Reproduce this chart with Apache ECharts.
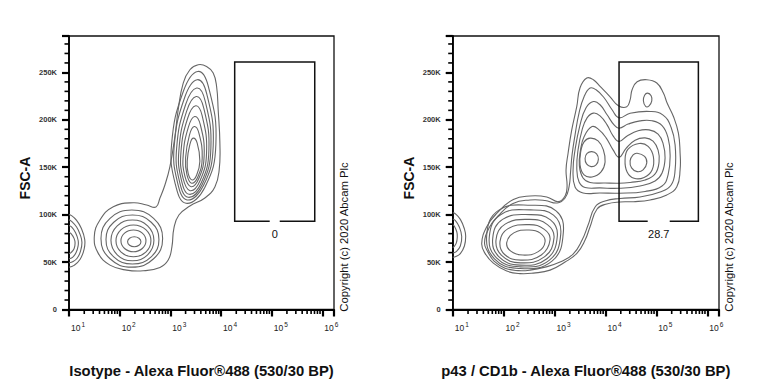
<!DOCTYPE html>
<html><head><meta charset="utf-8">
<script src="https://cdn.jsdelivr.net/npm/echarts@6/dist/echarts.min.js"></script>
<style>html,body{margin:0;padding:0;background:#fff;}#c{width:768px;height:384px;}</style>
</head><body><div id="c"></div>
<script>
// ---------- axes (x in log10 units of fluorescence, y in thousands) ----------
const xDecades = [1, 2, 3, 4, 5, 6];
const xRange = [1, 6.23];
const yTicks = [0, 50, 100, 150, 200, 250];
const yMinorTicks = [10,20,30,40,60,70,80,90,110,120,130,140,160,170,180,190,210,220,230,240,260,270,280];
const yRange = [0, 288.4];
const xMinorMultipliers = [2, 3, 4, 5, 6, 7, 8, 9];

const yTitle = 'FSC-A';
const xTitles = ['Isotype - Alexa Fluor®488 (530/30 BP)', 'p43 / CD1b - Alexa Fluor®488 (530/30 BP)'];
const copyrightText = 'Copyright (c) 2020 Abcam Plc';

// ---------- gates: [xMin, xMax, yMin, yMax] and their percentages ----------
const isotypeGate = [4.27, 5.85, 93, 261];
const isotypeGateLabel = '0';
const p43Gate = [4.267, 5.825, 93, 261];
const p43GateLabel = '28.7';

// ---------- isotype panel contours [log10 x, FSC-A (K)] ----------
const isoEdge1 = [[1.0,100],[1.05,99],[1.15,94],[1.24,86],[1.31,74],[1.30,64],[1.22,53],[1.1,46.5],[1.0,44.5]];
const isoEdge2 = [[1.0,94.5],[1.05,93],[1.15,87],[1.22,79],[1.255,71],[1.23,62],[1.16,54],[1.06,50],[1.0,49.3]];
const isoEdge3 = [[1.0,88.5],[1.05,87],[1.13,81],[1.18,73],[1.18,67],[1.14,60],[1.07,55],[1.0,53.5]];
const isoEdge4 = [[1.0,81.5],[1.04,80],[1.1,75],[1.12,70],[1.1,64],[1.04,60],[1.0,59]];
const isoOuter = [[3.550,258.1],[3.715,256.3],[3.846,249.4],[3.913,235.2],[3.944,210.6],[3.978,175.4],[3.964,147.2],[3.879,129.2],[3.682,117.6],[3.386,109.1],[3.169,99.6],[3.071,85.9],[3.031,66.1],[2.958,52.1],[2.795,44.4],[2.465,40.8],[2.138,41.5],[1.809,46.8],[1.578,59.2],[1.499,76.7],[1.611,94.4],[1.874,108.4],[2.268,112.6],[2.532,110.2],[2.716,108.1],[2.795,117.6],[2.893,131.3],[2.992,150.7],[3.090,182.4],[3.155,210.6],[3.254,238.8],[3.386,252.8]];
const isoLow1 = [[2.420,71.4],[2.381,75.1],[2.288,76.7],[2.195,75.1],[2.156,71.4],[2.195,67.7],[2.288,66.1],[2.381,67.7]];
const isoLow2 = [[2.519,72.4],[2.447,80.5],[2.272,83.8],[2.097,80.5],[2.025,72.4],[2.097,64.3],[2.272,60.9],[2.447,64.3]];
const isoLow3 = [[2.617,72.4],[2.516,84.2],[2.272,89.1],[2.028,84.2],[1.927,72.4],[2.028,60.5],[2.272,55.6],[2.516,60.5]];
const isoLow4 = [[2.676,72.9],[2.552,88.1],[2.252,94.4],[1.952,88.1],[1.828,72.9],[1.952,57.7],[2.252,51.4],[2.552,57.7]];
const isoLow5 = [[2.775,73.8],[2.622,92.0],[2.253,99.6],[1.883,92.0],[1.730,73.8],[1.883,55.5],[2.253,47.9],[2.622,55.5]];
const isoLow6 = [[2.848,74.8],[2.670,96.1],[2.240,104.9],[1.810,96.1],[1.631,74.8],[1.810,53.5],[2.240,44.7],[2.670,53.5]];
const isoHigh1 = [[3.54,251],[3.755,234.3],[3.899,174.5],[3.680,128.7],[3.31,112],[3.095,132.8],[3.025,174.5],[3.257,230.1]];
const isoHigh2 = [[3.53,242.3],[3.720,227.1],[3.846,172.6],[3.654,130.7],[3.33,115.5],[3.139,134.5],[3.077,172.6],[3.281,223.3]];
const isoHigh3 = [[3.52,233.5],[3.688,219.7],[3.800,170.1],[3.631,132.1],[3.35,118.3],[3.178,135.6],[3.124,170.1],[3.302,216.2]];
const isoHigh4 = [[3.51,224.6],[3.661,212.2],[3.761,167.9],[3.613,133.9],[3.37,121.5],[3.216,137.0],[3.169,167.9],[3.322,209.1]];
const isoHigh5 = [[3.50,214.8],[3.629,204.1],[3.715,165.6],[3.588,136.0],[3.39,125.3],[3.249,138.7],[3.209,165.6],[3.340,201.4]];
const isoHigh6 = [[3.48,203.5],[3.593,194.6],[3.668,162.8],[3.564,138.4],[3.41,129.5],[3.287,140.6],[3.254,162.8],[3.356,192.4]];
const isoHigh7 = [[3.47,192.9],[3.565,185.7],[3.629,160.0],[3.547,140.3],[3.42,133.1],[3.327,142.1],[3.301,160.0],[3.377,183.9]];
const isoHigh8 = [[3.45,180.7],[3.530,175.4],[3.583,156.4],[3.520,141.9],[3.43,136.6],[3.353,143.2],[3.333,156.4],[3.386,174.1]];

// ---------- p43 / CD1b panel contours ----------
const p43Edge1 = [[1.0,102],[1.05,101],[1.15,95],[1.23,85],[1.255,77],[1.23,67],[1.15,59],[1.05,55.5],[1.0,55.2]];
const p43Edge2 = [[1.0,95.5],[1.05,94],[1.13,87],[1.177,77],[1.15,67],[1.07,61],[1.0,59.5]];
const p43Edge3 = [[1.0,89.5],[1.03,88],[1.08,82],[1.09,77],[1.07,70],[1.02,66],[1.0,65.5]];
const p43Outer1 = [[1.570,69.7],[1.668,87.3],[1.865,101.4],[2.191,116.1],[2.519,119.7],[2.847,118.7],[3.075,113.7],[3.207,119.7],[3.246,129.5],[3.226,147.2],[3.266,164.8],[3.338,189.4],[3.437,214.1],[3.501,233.8],[3.633,244.1],[3.763,242.3],[3.894,235.2],[4.091,224.3],[4.254,214.8],[4.419,213.7],[4.484,221.1],[4.523,231.7],[4.622,240.2],[4.812,242.3],[5.009,238.8],[5.138,228.2],[5.211,217.7],[5.335,203.5],[5.433,186.0],[5.466,164.8],[5.466,147.2],[5.402,129.5],[5.205,120.8],[4.877,115.5],[4.549,113.7],[4.287,113.4],[4.026,111.3],[3.836,106.0],[3.698,87.3],[3.600,73.2],[3.443,59.5],[3.207,50.0],[2.912,41.5],[2.584,38.4],[2.322,37.8],[2.061,40.5],[1.798,48.9],[1.635,59.2]];
const p43Outer2 = [[3.698,233.5],[3.816,231.7],[3.973,223.3],[4.130,210.6],[4.267,202.1],[4.484,207.0],[4.877,208.8],[5.132,205.0],[5.290,192.0],[5.368,173.6],[5.368,147.2],[5.290,131.3],[5.073,123.9],[4.680,118.7],[4.287,117.1],[3.992,114.4],[3.797,108.1],[3.659,89.1],[3.541,73.2],[3.364,58.4],[3.108,50.0],[2.814,44.7],[2.519,41.5],[2.283,41.0],[2.028,43.6],[1.812,51.0],[1.694,60.5],[1.625,70.1],[1.713,85.9],[1.890,98.6],[2.185,111.8],[2.519,115.5],[2.814,115.0],[3.050,112.3],[3.207,117.6],[3.285,129.2],[3.315,145.1],[3.344,163.0],[3.403,184.2],[3.482,207.4],[3.580,224.3]];
const p43Upper1 = [[3.763,219.3],[3.894,215.9],[4.032,205.3],[4.169,194.7],[4.267,191.2],[4.444,195.5],[4.680,198.9],[4.916,199.0],[5.112,194.0],[5.230,181.0],[5.270,163.0],[5.230,142.0],[5.112,130.3],[4.779,124.5],[4.267,122.6],[3.894,122.9],[3.560,122.9],[3.403,129.2],[3.364,147.2],[3.403,168.3],[3.501,194.7],[3.619,212.7]];
const p43Upper2 = [[3.763,207.1],[3.894,204.2],[4.032,194.7],[4.150,183.1],[4.267,177.1],[4.425,183.0],[4.641,188.5],[4.857,189.4],[5.034,185.0],[5.132,175.0],[5.171,159.9],[5.112,144.0],[4.975,135.6],[4.680,130.3],[4.267,127.8],[3.894,128.2],[3.600,128.7],[3.482,134.5],[3.437,149.3],[3.462,168.3],[3.541,189.4],[3.639,202.1]];
const p43Upper3 = [[3.737,192.9],[3.875,189.4],[4.013,181.0],[4.150,168.3],[4.267,160.6],[4.405,170.0],[4.582,178.5],[4.778,181.0],[4.935,177.5],[5.034,168.0],[5.053,155.6],[4.975,143.0],[4.778,136.6],[4.484,134.0],[4.267,133.1],[3.992,133.4],[3.698,134.0],[3.560,138.7],[3.488,151.4],[3.511,168.3],[3.580,182.1]];
const p43PeakL1 = [[3.698,180.7],[3.855,177.8],[3.959,168.3],[3.993,155.6],[3.914,145.1],[3.737,139.8],[3.580,141.9],[3.501,152.5],[3.521,168.3],[3.580,176.8]];
const p43PeakL2 = [[3.731,166.5],[3.826,164.1],[3.861,158.3],[3.816,152.5],[3.718,150.7],[3.629,153.5],[3.600,159.3],[3.639,164.6]];
const p43PeakR1 = [[4.661,175.0],[4.838,172.0],[4.942,160.9],[4.916,147.2],[4.759,139.3],[4.562,138.4],[4.425,145.1],[4.385,157.7],[4.444,169.0]];
const p43PeakR2 = [[4.622,164.8],[4.769,161.4],[4.812,154.6],[4.739,147.2],[4.621,145.4],[4.513,149.3],[4.484,156.7],[4.543,163.0]];
const p43Island = [[4.828,228.2],[4.897,225.4],[4.910,220.1],[4.857,214.8],[4.789,214.1],[4.745,220.1],[4.769,225.9]];
const p43Low1 = [[2.814,71.5],[2.72,80.5],[2.50,83.8],[2.20,80.8],[2.061,70.6],[2.14,61.5],[2.38,57.4],[2.68,61.0]];
const p43Low2 = [[2.912,73.5],[2.80,84.5],[2.50,89.5],[2.08,85.0],[1.929,71.8],[2.02,58.0],[2.34,52.1],[2.74,57.5]];
const p43Low3 = [[2.990,75.5],[2.86,89.5],[2.51,95.0],[2.03,90.0],[1.851,73.5],[1.96,57.0],[2.33,49.2],[2.80,55.5]];
const p43Low4 = [[3.055,77.5],[2.92,94.5],[2.52,100.0],[1.98,95.0],[1.786,75.0],[1.91,55.5],[2.32,46.8],[2.85,53.5]];
const p43Low5 = [[3.122,79.5],[2.98,99.5],[2.53,105.0],[1.94,100.0],[1.719,76.7],[1.86,54.5],[2.31,45.0],[2.90,52.0]];
const p43Low6 = [[3.173,81.5],[3.03,104.0],[2.54,110.0],[1.90,104.5],[1.668,78.3],[1.82,53.5],[2.30,43.3],[2.95,51.0]];

const isotypeEdges = [isoEdge1, isoEdge2, isoEdge3, isoEdge4];
const isotypeContours = [isoOuter, isoLow1, isoLow2, isoLow3, isoLow4, isoLow5, isoLow6,
  isoHigh1, isoHigh2, isoHigh3, isoHigh4, isoHigh5, isoHigh6, isoHigh7, isoHigh8];
const p43Edges = [p43Edge1, p43Edge2, p43Edge3];
const p43Contours = [p43Outer1, p43Outer2, p43Upper1, p43Upper2, p43Upper3, p43PeakL1, p43PeakL2,
  p43PeakR1, p43PeakR2, p43Island, p43Low1, p43Low2, p43Low3, p43Low4, p43Low5, p43Low6];

// ---------- build ----------
const FONT = "'Liberation Sans', Arial, Helvetica, sans-serif";
const xMinorTicks = [];
xDecades.forEach(function (d) {
  xMinorMultipliers.forEach(function (m) {
    const v = d + Math.log10(m);
    if (v <= xRange[1]) xMinorTicks.push(v);
  });
});

const grids = [
  { left: 69, top: 36, width: 265, height: 273.5, show: true, borderColor: '#111', borderWidth: 1.3 },
  { left: 452.7, top: 36, width: 266.3, height: 273.5, show: true, borderColor: '#111', borderWidth: 1.3 }
];

function xAxisFor(g) {
  return {
    type: 'value', gridIndex: g, min: xRange[0], max: xRange[1], interval: 1, position: 'bottom',
    axisLine: { show: true, onZero: false, lineStyle: { color: '#000', width: 1.8 } },
    axisTick: { show: true, length: 7, lineStyle: { color: '#000', width: 2.2 } },
    axisLabel: {
      show: true, align: 'left', margin: 11,
      formatter: function (v) { return xDecades.indexOf(v) >= 0 ? '{b|10}{s|' + v + '}' : ''; },
      rich: {
        b: { fontSize: 8.5, fontFamily: FONT, color: '#222', lineHeight: 10, padding: [5, 0, 0, 2] },
        s: { fontSize: 6.5, fontFamily: FONT, color: '#222', lineHeight: 8, verticalAlign: 'top', padding: [0, 0, 0, 1] }
      }
    },
    splitLine: { show: false }
  };
}
function yAxisFor(g) {
  return {
    type: 'value', gridIndex: g, min: yRange[0], max: yRange[1], interval: 50, position: 'left',
    axisLine: { show: true, onZero: false, lineStyle: { color: '#000', width: 1.8 } },
    axisTick: { show: true, length: 7, lineStyle: { color: '#000', width: 2.2 } },
    axisLabel: {
      show: true, margin: 12, fontSize: 7.5, fontWeight: 'bold', fontFamily: FONT, color: '#333',
      formatter: function (v) { return yTicks.indexOf(v) < 0 ? '' : (v === 0 ? '0' : v + 'K'); }
    },
    splitLine: { show: false }
  };
}

function contourSeries(g, contours, closed) {
  return {
    type: 'custom', xAxisIndex: g, yAxisIndex: g, silent: true, animation: false,
    data: contours.map(function (c, i) { return [c[0][0], c[0][1], i]; }),
    encode: { x: 0, y: 1 },
    renderItem: function (params, api) {
      const pts = contours[params.dataIndex].map(function (p) { return api.coord(p); });
      return {
        type: closed ? 'polygon' : 'polyline',
        shape: { points: pts, smooth: 0.45 },
        style: { fill: 'none', stroke: '#666', lineWidth: 1.1 }
      };
    }
  };
}
function gateSeries(g, gate, label, gapHalf) {
  return {
    type: 'custom', xAxisIndex: g, yAxisIndex: g, silent: true, animation: false, z: 5,
    data: [[gate[0], gate[2]]], encode: { x: 0, y: 1 },
    renderItem: function (params, api) {
      const tl = api.coord([gate[0], gate[3]]);
      const br = api.coord([gate[1], gate[2]]);
      const cx = (tl[0] + br[0]) / 2;
      return {
        type: 'group', children: [
          { type: 'polyline', shape: { points: [[cx - gapHalf, br[1]], [tl[0], br[1]], [tl[0], tl[1]], [br[0], tl[1]], [br[0], br[1]], [cx + gapHalf, br[1]]] },
            style: { fill: 'none', stroke: '#111', lineWidth: 1.5 } },
          { type: 'text', x: cx, y: br[1] + 13,
            style: { text: label, fill: '#111', fontSize: 11, fontFamily: FONT, align: 'center', verticalAlign: 'middle', textAlign: 'center', textVerticalAlign: 'middle' } }
        ]
      };
    }
  };
}

const chart = echarts.init(document.getElementById('c'), null, { renderer: 'svg', width: 768, height: 384 });
chart.setOption({
  animation: false,
  backgroundColor: '#fff',
  grid: grids,
  xAxis: [xAxisFor(0), xAxisFor(1)],
  yAxis: [yAxisFor(0), yAxisFor(1)],
  series: [
    contourSeries(0, isotypeEdges, false),
    contourSeries(0, isotypeContours, true),
    gateSeries(0, isotypeGate, isotypeGateLabel, 5),
    contourSeries(1, p43Edges, false),
    contourSeries(1, p43Contours, true),
    gateSeries(1, p43Gate, p43GateLabel, 11)
  ]
});

// titles, copyright and log-decade minor ticks; tick positions come from the chart's own axis scales
const titleStyle = { fontSize: 14.8, fontWeight: 'bold', fontFamily: FONT, fill: '#111', align: 'center', verticalAlign: 'middle', textAlign: 'center', textVerticalAlign: 'middle' };
const overlay = [];
[0, 1].forEach(function (g) {
  const bl = chart.convertToPixel({ gridIndex: g }, [xRange[0], yRange[0]]);
  const tr = chart.convertToPixel({ gridIndex: g }, [xRange[1], yRange[1]]);
  overlay.push({ type: 'text', x: (bl[0] + tr[0]) / 2, y: bl[1] + 61, silent: true, style: Object.assign({ text: xTitles[g] }, titleStyle) });
  overlay.push({ type: 'text', x: bl[0] - 44, y: 178, rotation: Math.PI / 2, silent: true, style: Object.assign({ text: yTitle }, titleStyle, { fontSize: 14 }) });
  overlay.push({ type: 'text', x: tr[0] + 10, y: 237, rotation: Math.PI / 2, silent: true,
    style: { text: copyrightText, fontSize: 11.3, fontFamily: FONT, fill: '#111', align: 'center', verticalAlign: 'middle', textAlign: 'center', textVerticalAlign: 'middle' } });
  xMinorTicks.forEach(function (v) {
    const p = chart.convertToPixel({ gridIndex: g }, [v, yRange[0]]);
    overlay.push({ type: 'rect', silent: true, z: 10, shape: { x: p[0] - 0.8, y: p[1], width: 1.6, height: 4.5 }, style: { fill: '#000' } });
  });
  yMinorTicks.forEach(function (v) {
    const p = chart.convertToPixel({ gridIndex: g }, [xRange[0], v]);
    overlay.push({ type: 'rect', silent: true, z: 10, shape: { x: p[0] - 4.5, y: p[1] - 0.8, width: 4.5, height: 1.6 }, style: { fill: '#000' } });
  });
});
chart.setOption({ graphic: { elements: overlay } });
</script>
</body></html>
